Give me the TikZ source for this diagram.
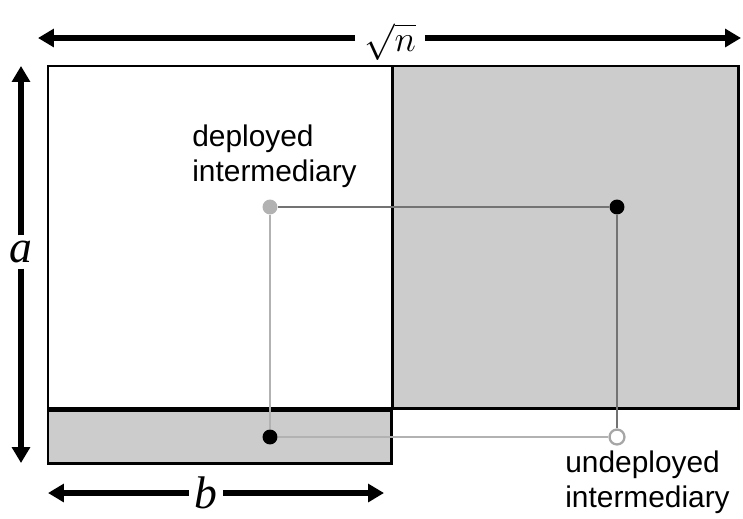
\documentclass[tikz,border=0pt]{standalone}
\usepackage{fontspec}
\setmainfont{Liberation Sans}
\newfontfamily\mathish{Liberation Serif}
\usetikzlibrary{arrows.meta}

\tikzset{
  region/.style={draw=black, line width=1.7pt},
  dimarrow/.style={line width=3.4pt, -{Triangle[length=9pt,width=10pt]}},
  dimlabel/.style={inner sep=3pt, font=\fontsize{26}{30}\selectfont\mathish\itshape},
  link/.style={line width=1.1pt},
  fulldot/.style={circle, fill=black, inner sep=0pt, minimum size=8.5pt},
  greydot/.style={circle, fill=black!30, inner sep=0pt, minimum size=8.5pt},
  opendot/.style={circle, draw=black!35, fill=white, line width=1.3pt, inner sep=0pt, minimum size=8.5pt},
  tag/.style={align=left, anchor=west, inner sep=0pt, font=\fontsize{17}{20}\selectfont}
}

\begin{document}
\begin{tikzpicture}[x=0.02cm, y=-0.02cm]
		\useasboundingbox (0,0) rectangle (743,518);
		% regions
		\draw[region, fill=white] (48,66) rectangle (392,408);
		\draw[region, fill=black!20] (392,66) rectangle (738,408);
		\draw[region, fill=black!20] (48,410) rectangle (391,463);

		% points
		\node[greydot] (dep) at (270,207) {};
		\node[fulldot] (far) at (617,207) {};
		\node[fulldot] (near) at (270,437) {};
		\node[opendot] (undep) at (617,437) {};

		% links
		\draw[link, black!55] (dep) -- (far);
		\draw[link, black!30] (dep) -- (near);
		\draw[link, black!55] (far) -- (undep);
		\draw[link, black!30] (near) -- (undep);

		% labels
		\node[tag] (deplbl) at (192,156) {deployed\\intermediary};
		\node[tag] (undeplbl) at (565,482) {undeployed\\intermediary};

		% dimensions
		\coordinate (topL) at (38,38);
		\coordinate (topR) at (741,38);
		\coordinate (sideT) at (21,66);
		\coordinate (sideB) at (21,463);
		\coordinate (botL) at (48,493);
		\coordinate (botR) at (384,493);
		\node[dimlabel, font=\fontsize{22}{26}\selectfont\mathish\itshape] (sqrtn) at (390,42) {$\sqrt{n}$};
		\node[dimlabel] (alen) at (21,252) {a};
		\node[dimlabel] (blen) at (206,493) {b};
		\draw[dimarrow] ([xshift=-2pt]sqrtn.west |- topL) -- (topL);
		\draw[dimarrow] ([xshift=2pt]sqrtn.east |- topR) -- (topR);
		\draw[dimarrow] (alen.north) -- (sideT);
		\draw[dimarrow] (alen.south) -- (sideB);
		\draw[dimarrow] (blen.west) -- (botL);
		\draw[dimarrow] (blen.east) -- (botR);
	\end{tikzpicture}
\end{document}
